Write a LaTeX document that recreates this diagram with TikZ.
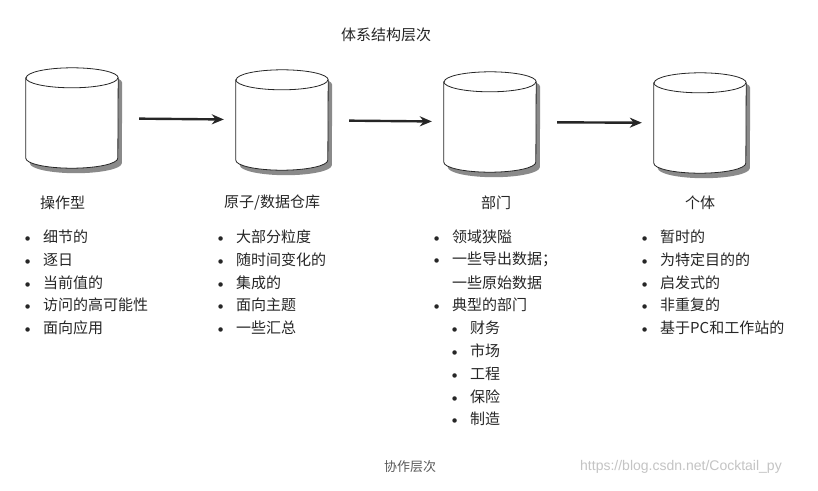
\documentclass[tikz,border=0pt]{standalone}
\usepackage{fontspec}
\newfontfamily\cjk{Noto Sans CJK SC}
\newfontfamily\wmfont{Liberation Sans}
\usepackage{xcolor}
\definecolor{inkgray}{HTML}{262626}
\definecolor{shadowgray}{HTML}{8A8A8A}
\definecolor{notegray}{HTML}{5A5A5A}
\definecolor{markgray}{HTML}{C4C4C4}
\usetikzlibrary{arrows.meta}

% upright database drum round a named node
\newcommand{\dbcyl}[1]{%
  \fill[shadowgray] ([xshift=4pt,yshift=-15pt]#1.north west) -- ([xshift=4pt,yshift=5pt]#1.south west)
    arc[start angle=180,end angle=360,x radius=46pt,y radius=10pt]
    -- ([xshift=4pt,yshift=-15pt]#1.north east) arc[start angle=0,end angle=180,x radius=46pt,y radius=10pt] -- cycle;
  \draw[inkgray,thick,fill=white] ([yshift=-10pt]#1.north west) -- ([yshift=10pt]#1.south west)
    arc[start angle=180,end angle=360,x radius=46pt,y radius=10pt]
    -- ([yshift=-10pt]#1.north east) arc[start angle=0,end angle=180,x radius=46pt,y radius=10pt] -- cycle;
  \draw[inkgray,thick] ([yshift=-10pt]#1.north west) arc[start angle=180,end angle=360,x radius=46pt,y radius=10pt];
}

\begin{document}
\begin{tikzpicture}[x=1pt,y=-1pt,
                    db/.style={rectangle,minimum width=92pt,minimum height=100pt,inner sep=0pt},
                    edge/.style={-{Stealth[length=12pt,width=10pt]},line width=2.4pt,draw=inkgray,
                                 shorten <=21pt,shorten >=12pt},
                    head/.style={font=\cjk\fontsize{15}{18}\selectfont,text=inkgray,inner sep=0pt,anchor=west},
                    item/.style={head,execute at begin node={\llap{{\rmfamily\bfseries\textbullet}\hspace{9pt}}}}]
  \useasboundingbox[fill=white] (0,0) rectangle (818,490);

  \node[head,anchor=center] (title) at (386,35) {体系结构层次};

  \node[db] (op) at (72,118) {};
  \node[db] (dw) at (282,120) {};
  \node[db] (dept) at (490,122) {};
  \node[db] (indiv) at (700,123) {};
  \dbcyl{op} \dbcyl{dw} \dbcyl{dept} \dbcyl{indiv}

  \draw[edge] (op) -- (dw);
  \draw[edge] (dw) -- (dept);
  \draw[edge] (dept) -- (indiv);

  \node[head] (opl) at (40,203) {操作型};
  \node[head] (dwl) at (224,203) {原子/数据仓库};
  \node[head] (deptl) at (481,203) {部门};
  \node[head] (indivl) at (685,203) {个体};

  % bullet lists
  \foreach \t [count=\i] in {细节的,逐日,当前值的,访问的高可能性,面向应用}
    \node[item] (op\i) at (43,{214.25+22.75*\i}) {\t};
  \foreach \t [count=\i] in {大部分粒度,随时间变化的,集成的,面向主题,一些汇总}
    \node[item] (dw\i) at (236,{214.25+22.75*\i}) {\t};
  \node[item] (dept1) at (452,237) {领域狭隘};
  \node[item] (dept2) at (452,259.75) {一些导出数据；};
  \node[head] (dept2b) at (452,282.5) {一些原始数据};
  \node[item] (dept3) at (452,305.25) {典型的部门};
  \foreach \t [count=\i] in {财务,市场,工程,保险,制造}
    \node[item] (sub\i) at (470,{305.25+22.75*\i}) {\t};
  \foreach \t [count=\i] in {暂时的,为特定目的的,启发式的,非重复的,基于PC和工作站的}
    \node[item] (indiv\i) at (660,{214.25+22.75*\i}) {\t};

  \node[head,anchor=center,text=notegray,font=\cjk\fontsize{13}{16}\selectfont] (collab) at (410,467) {协作层次};
  \node[head,text=markgray,font=\wmfont\fontsize{14}{16}\selectfont] (mark) at (580,467) {https://blog.csdn.net/Cocktail\_py};
\end{tikzpicture}
\end{document}
